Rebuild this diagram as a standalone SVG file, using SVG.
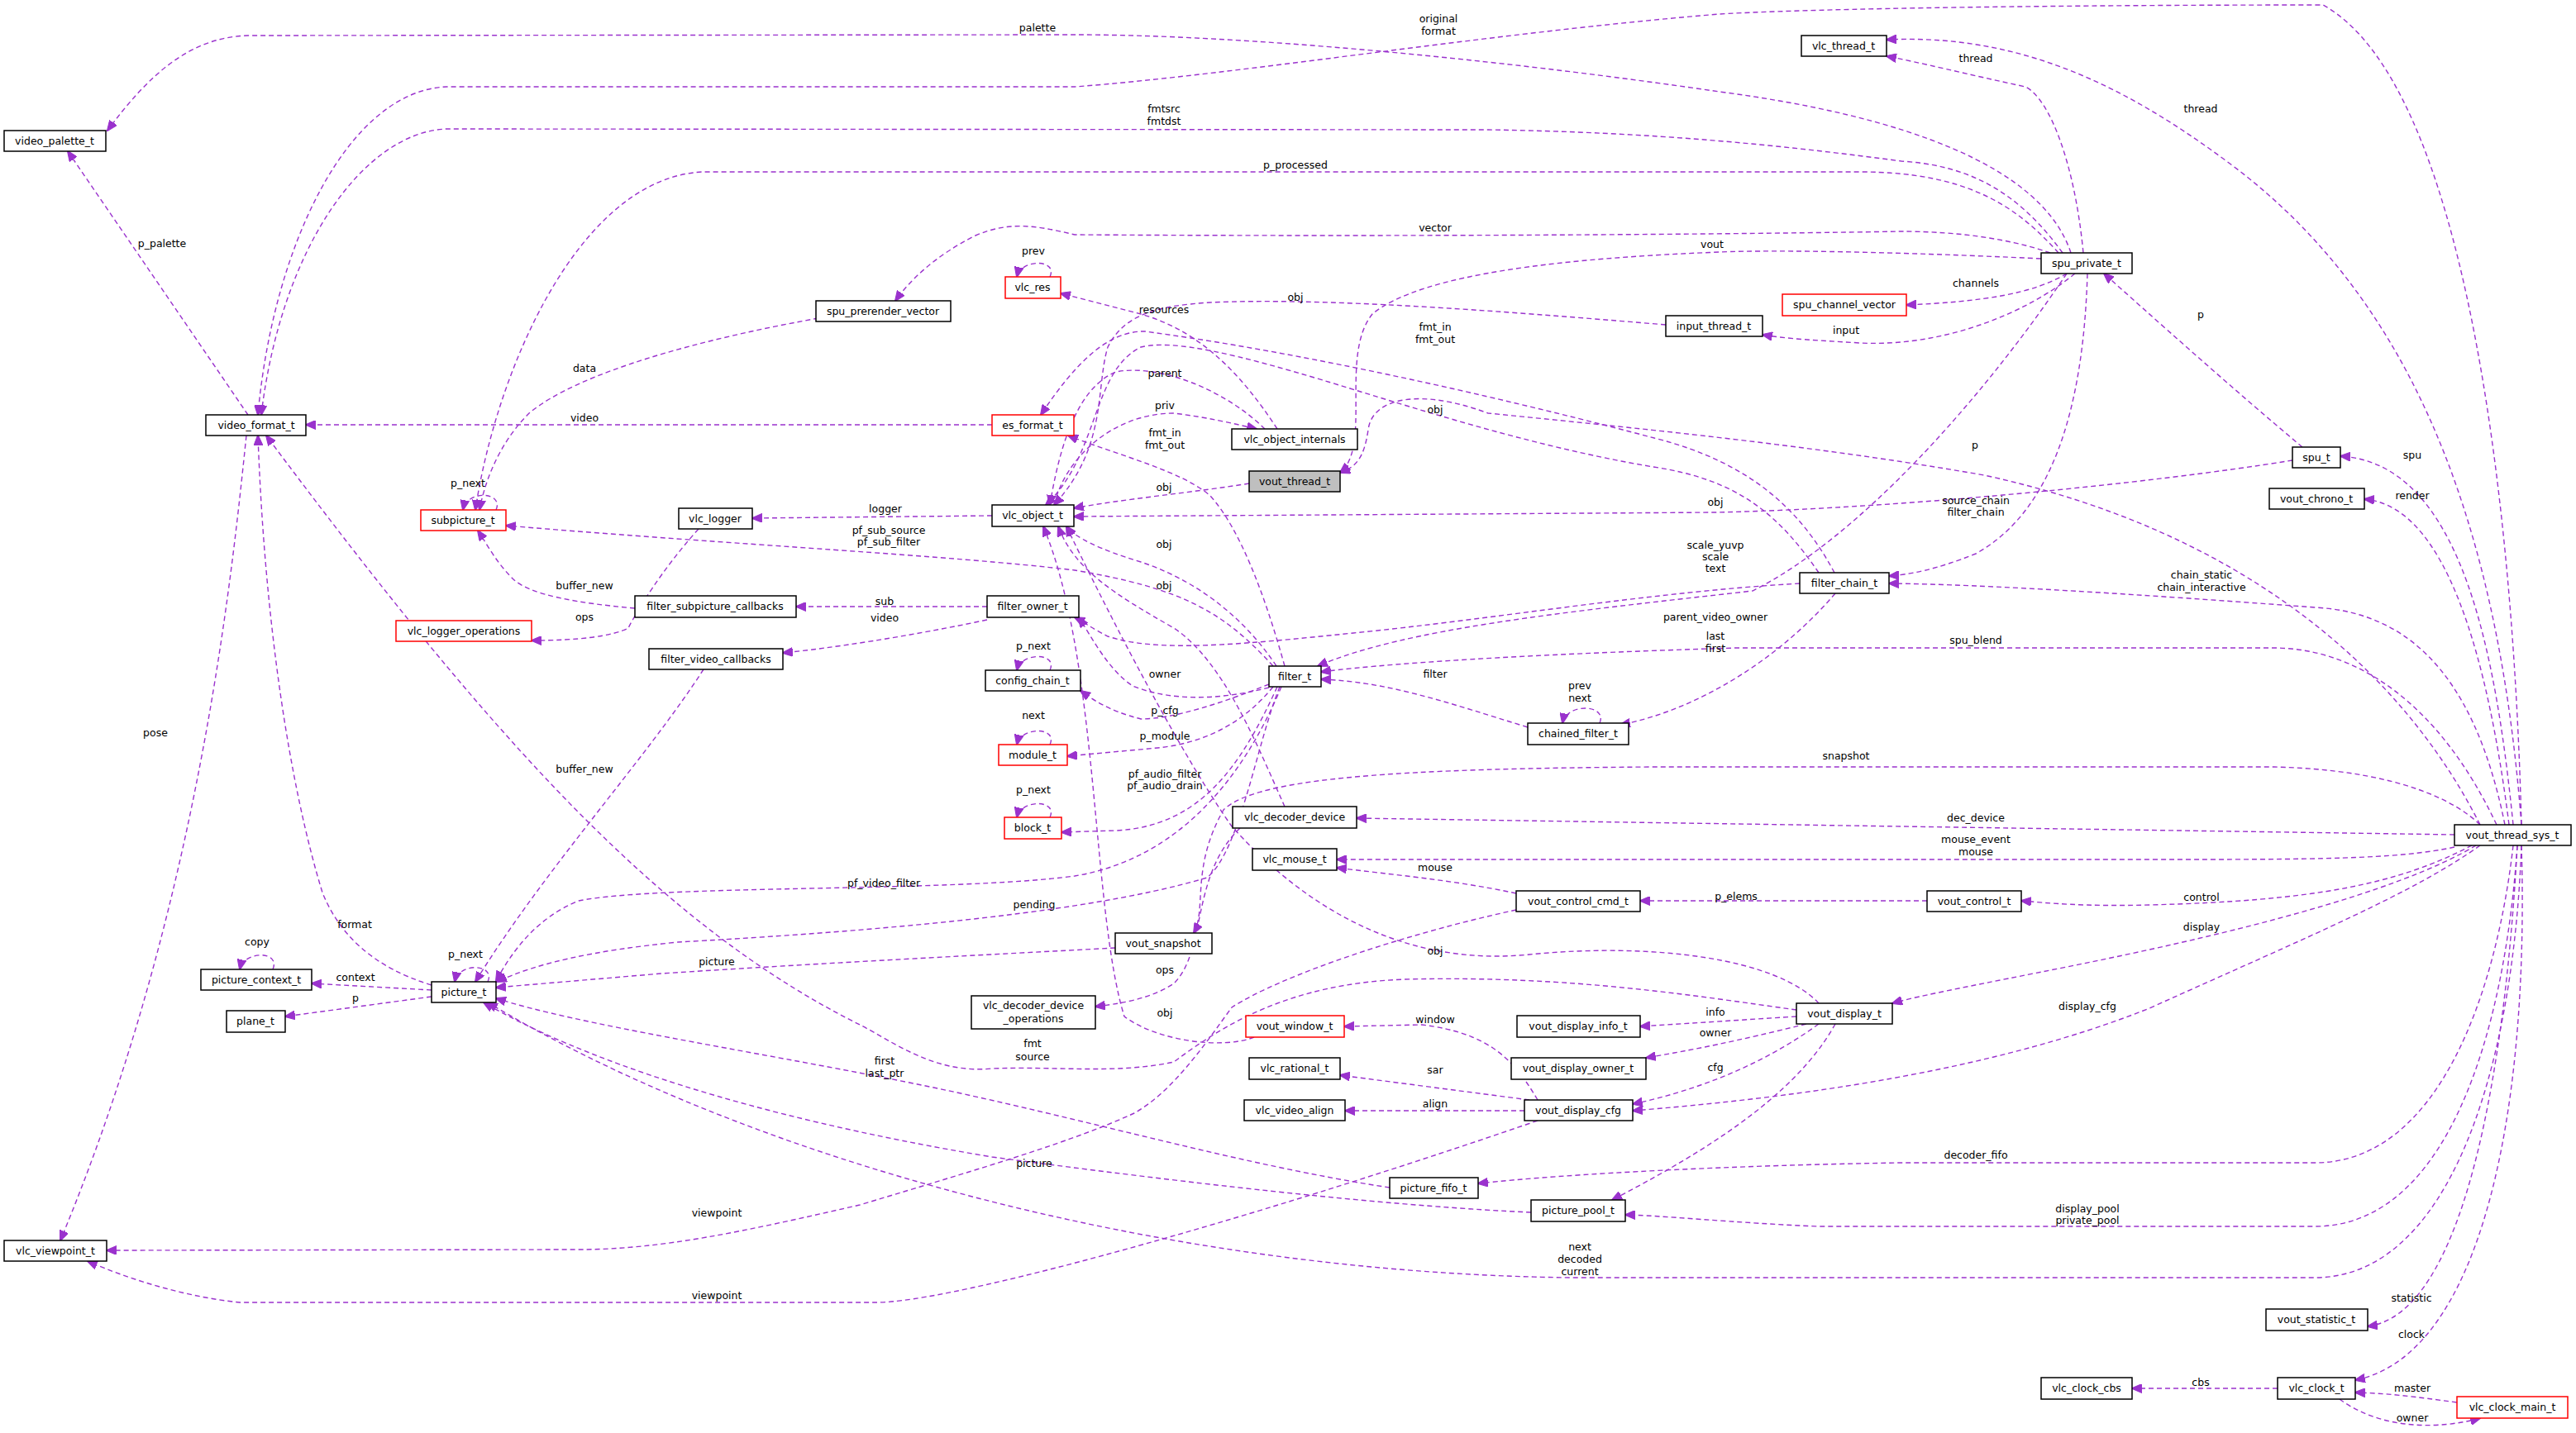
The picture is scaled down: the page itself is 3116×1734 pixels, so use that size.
<svg xmlns="http://www.w3.org/2000/svg" width="3116" height="1734" viewBox="0 0 3116 1734">
<style>
.n rect{fill:#fff;stroke:#000;stroke-width:1.5}
.r rect{stroke:#ff0000}
.g rect{fill:#bfbfbf}
text{font-family:"DejaVu Sans","Liberation Sans",sans-serif;font-size:12.5px;text-anchor:middle;fill:#000}
.e path{fill:none;stroke:#9a32cd;stroke-width:1.4;stroke-dasharray:6,4;marker-end:url(#a)}
</style>
<defs>
<marker id="a" viewBox="0 0 12 10" refX="11" refY="5" markerWidth="13" markerHeight="11" markerUnits="userSpaceOnUse" orient="auto">
<path d="M0,0 L12,5 L0,10 z" fill="#9a32cd" stroke="#9a32cd"/>
</marker>
</defs>
<rect width="3116" height="1734" fill="#fff"/>
<g class="e" id="edges">
<path d="M2505,306 C2470,200 2300,140 2080,111 C1800,70 1500,42 1300,42 L300,43 C230,45 180,90 130,158"/>
<path d="M3050,998 C3040,600 2980,100 2810,6 C2500,6 2200,10 2080,17 C1800,40 1500,90 1300,105 L540,105 C420,110 330,300 312,502"/>
<path d="M2495,306 C2440,230 2380,200 2300,195 C2150,175 2000,160 1800,157 L540,156 C440,160 340,300 316,502"/>
<path d="M2490,306 C2440,250 2380,208 2250,208 L850,208 C700,215 600,450 575,617"/>
<path d="M2480,306 C2420,285 2350,280 2300,280 C2000,285 1600,286 1300,284 C1250,272 1220,268 1180,285 C1130,310 1100,340 1083,364"/>
<path d="M2469,313 C2300,305 2150,302 2080,305 C1900,312 1720,330 1660,380 C1620,430 1660,540 1621,572"/>
<path d="M2500,331 C2460,355 2400,365 2306,369"/>
<path d="M2510,331 C2450,380 2350,420 2250,415 C2200,412 2160,410 2132,405"/>
<path d="M2520,306 C2510,200 2480,120 2450,105 C2380,90 2320,75 2282,68"/>
<path d="M3050,998 C3020,600 2900,350 2700,200 C2580,110 2450,40 2282,48"/>
<path d="M2785,541 C2700,470 2600,380 2545,331"/>
<path d="M3040,998 C3020,800 2980,560 2831,552"/>
<path d="M3035,998 C3010,800 2960,612 2860,604"/>
<path d="M3030,998 C2990,800 2900,740 2800,735 C2600,720 2400,707 2285,706"/>
<path d="M2525,331 C2520,500 2480,620 2390,670 C2340,690 2310,695 2285,697"/>
<path d="M3020,998 C2950,850 2850,784 2750,784 L2100,784 C1900,790 1700,800 1598,813"/>
<path d="M3000,998 C2950,950 2850,930 2750,928 L2000,928 C1700,930 1520,940 1480,980 C1440,1050 1460,1100 1444,1129"/>
<path d="M2969,1010 L2300,1000 L1641,990"/>
<path d="M2969,1025 C2900,1040 2800,1040 2600,1040 L1617,1040"/>
<path d="M2990,1023 C2900,1070 2800,1090 2600,1095 C2520,1097 2480,1093 2445,1090"/>
<path d="M2331,1090 L1984,1090"/>
<path d="M2995,1023 C2900,1080 2700,1130 2500,1170 C2400,1190 2320,1205 2289,1214"/>
<path d="M3000,1023 C2920,1080 2800,1130 2600,1220 C2400,1300 2150,1330 1975,1344"/>
<path d="M3040,1023 C3020,1200 2950,1407 2800,1407 L2300,1407 C2100,1410 1900,1420 1788,1432"/>
<path d="M3045,1023 C3030,1250 2960,1484 2800,1484 L2200,1484 C2100,1480 2000,1470 1966,1470"/>
<path d="M3050,1023 C3040,1300 2960,1546 2800,1546 L1900,1546 C1400,1540 900,1400 590,1213"/>
<path d="M3045,1023 C3030,1300 2980,1590 2864,1605"/>
<path d="M3050,1023 C3060,1350 3000,1640 2849,1670"/>
<path d="M2755,1680 L2579,1680"/>
<path d="M2972,1697 C2920,1690 2890,1686 2849,1685"/>
<path d="M2830,1693 C2880,1730 2950,1730 3000,1716"/>
<path d="M2173,1230 L1984,1242"/>
<path d="M2185,1239 C2100,1260 2050,1270 1991,1280"/>
<path d="M2200,1239 C2130,1290 2050,1320 1975,1336"/>
<path d="M2220,1239 C2170,1330 2050,1400 1950,1452"/>
<path d="M2200,1214 C2150,1160 2000,1140 1850,1155 C1700,1170 1580,1100 1490,1000 C1420,900 1330,720 1290,637"/>
<path d="M2173,1222 C2050,1205 1900,1180 1700,1185 C1560,1190 1480,1240 1420,1285 C1350,1300 1280,1290 1200,1293 C1130,1300 1080,1260 1040,1240 C800,1120 600,900 322,527"/>
<path d="M1860,1331 C1830,1280 1800,1250 1720,1240 L1626,1242"/>
<path d="M1850,1331 L1621,1301"/>
<path d="M1844,1344 L1627,1344"/>
<path d="M1860,1356 C1500,1480 1150,1576 1060,1576 L290,1576 C230,1570 160,1550 106,1526"/>
<path d="M1834,1081 C1760,1065 1680,1058 1617,1050"/>
<path d="M1834,1101 C1700,1130 1550,1180 1490,1219 C1460,1260 1420,1320 1372,1347 C1300,1380 1200,1410 1040,1458 C900,1490 800,1512 700,1512 L129,1513"/>
<path d="M1681,1437 C1500,1410 1300,1350 1100,1310 C900,1270 700,1240 600,1208"/>
<path d="M1852,1467 C1700,1460 1500,1440 1200,1400 C900,1350 700,1280 585,1213"/>
<path d="M1349,1147 C1200,1155 1000,1165 800,1178 L600,1195"/>
<path d="M1548,831 C1520,900 1500,1030 1460,1062 C1300,1110 1000,1130 820,1140 C720,1150 650,1165 601,1188"/>
<path d="M1511,585 C1450,595 1350,605 1299,615"/>
<path d="M2773,557 C2600,585 2300,615 2076,620 L1299,625"/>
<path d="M1544,806 C1500,740 1440,700 1380,680 C1330,665 1300,650 1290,637"/>
<path d="M1554,976 C1520,900 1480,800 1420,760 C1350,720 1300,690 1280,637"/>
<path d="M2015,393 C1800,375 1600,360 1464,366 C1400,370 1360,380 1340,420 C1325,470 1340,540 1275,611"/>
<path d="M2219,693 C2180,620 2120,560 2001,530 C1850,490 1600,430 1385,401 C1340,400 1300,440 1259,502"/>
<path d="M1554,806 C1530,720 1500,640 1464,600 C1430,570 1350,550 1292,527"/>
<path d="M2200,693 C2150,620 2100,580 2000,565 C1850,540 1700,490 1600,460 C1500,430 1420,410 1380,420 C1320,450 1330,550 1265,611"/>
<path d="M3000,998 C2900,800 2700,640 2400,575 C2200,540 2000,520 1800,500 C1720,470 1660,480 1655,520 C1650,555 1640,565 1621,572"/>
<path d="M1535,832 C1480,846 1420,850 1370,830 C1340,810 1320,770 1305,747"/>
<path d="M2177,706 C2000,716 1800,750 1637,766 C1500,780 1400,790 1340,770 C1320,760 1310,752 1300,747"/>
<path d="M1194,734 L963,734"/>
<path d="M1194,750 C1100,770 1000,785 947,790"/>
<path d="M768,736 C700,730 640,720 620,700 C600,680 590,660 578,642"/>
<path d="M851,810 C780,920 660,1050 575,1188"/>
<path d="M845,640 C800,690 770,740 760,760 C740,770 700,775 643,775"/>
<path d="M1200,624 L910,627"/>
<path d="M1540,806 C1480,740 1430,712 1300,690 C1150,672 900,660 612,636"/>
<path d="M1200,514 L370,514"/>
<path d="M990,385 C850,410 700,450 640,500 C600,540 585,590 580,617"/>
<path d="M300,502 L82,183"/>
<path d="M298,527 C280,700 240,1100 73,1501"/>
<path d="M522,1192 C450,1170 410,1130 390,1080 C350,950 320,750 312,527"/>
<path d="M522,1198 L377,1190"/>
<path d="M522,1206 L345,1230"/>
<path d="M1550,831 C1500,950 1420,1040 1300,1060 C1150,1080 800,1070 700,1090 C650,1110 620,1150 600,1187"/>
<path d="M1535,828 C1480,850 1420,870 1380,870 C1340,860 1320,845 1307,836"/>
<path d="M1540,831 C1500,880 1450,900 1400,905 L1291,915"/>
<path d="M1545,831 C1500,930 1450,1000 1350,1005 L1284,1007"/>
<path d="M1848,880 C1750,850 1680,825 1598,822"/>
<path d="M2220,718 C2150,800 2050,860 1960,877"/>
<path d="M2500,331 C2400,480 2250,650 2120,715 C1900,740 1700,760 1594,806"/>
<path d="M1275,611 C1290,550 1350,500 1420,500 C1460,505 1490,512 1520,519"/>
<path d="M1530,519 C1480,470 1400,440 1350,450 C1300,470 1280,550 1270,611"/>
<path d="M1545,519 C1500,450 1450,400 1380,380 L1283,355"/>
<path d="M1517,1255 C1480,1270 1400,1260 1360,1230 C1320,1100 1330,800 1262,637"/>
<path d="M1500,1002 C1440,1060 1460,1150 1420,1190 C1390,1210 1350,1215 1325,1218"/>
<path d="M600,617 C610,595 565,592 560,617"/>
<path d="M590,1188 C600,1166 555,1164 550,1188"/>
<path d="M330,1173 C340,1150 295,1150 290,1173"/>
<path d="M1270,811 C1280,789 1235,789 1230,811"/>
<path d="M1270,901 C1280,879 1235,879 1230,901"/>
<path d="M1270,989 C1280,967 1235,967 1230,989"/>
<path d="M1270,335 C1280,313 1235,313 1230,335"/>
<path d="M1935,875 C1945,852 1895,850 1890,875"/>
</g>
<g id="labels">
<text x="1255" y="38">palette</text>
<text x="1740" y="27">original</text><text x="1740" y="42">format</text>
<text x="1408" y="136">fmtsrc</text><text x="1408" y="151">fmtdst</text>
<text x="1567" y="204">p_processed</text>
<text x="1736" y="280">vector</text>
<text x="2071" y="300">vout</text>
<text x="2390" y="347">channels</text>
<text x="2233" y="404">input</text>
<text x="2390" y="75">thread</text>
<text x="2662" y="136">thread</text>
<text x="2662" y="385">p</text>
<text x="2918" y="555">spu</text>
<text x="2918" y="604">render</text>
<text x="2663" y="700">chain_static</text><text x="2663" y="715">chain_interactive</text>
<text x="2390" y="610">source_chain</text><text x="2390" y="624">filter_chain</text>
<text x="2390" y="779">spu_blend</text>
<text x="2233" y="919">snapshot</text>
<text x="2390" y="994">dec_device</text>
<text x="2390" y="1020">mouse_event</text><text x="2390" y="1035">mouse</text>
<text x="2663" y="1090">control</text>
<text x="2100" y="1089">p_elems</text>
<text x="2663" y="1126">display</text>
<text x="2525" y="1222">display_cfg</text>
<text x="2390" y="1402">decoder_fifo</text>
<text x="2525" y="1467">display_pool</text><text x="2525" y="1481">private_pool</text>
<text x="1911" y="1513">next</text><text x="1911" y="1528">decoded</text><text x="1911" y="1543">current</text>
<text x="2917" y="1575">statistic</text>
<text x="2917" y="1619">clock</text>
<text x="2662" y="1677">cbs</text>
<text x="2918" y="1684">master</text>
<text x="2918" y="1720">owner</text>
<text x="2075" y="1229">info</text>
<text x="2075" y="1254">owner</text>
<text x="2075" y="1296">cfg</text>
<text x="1963" y="1345">pool</text>
<text x="1736" y="1155">obj</text>
<text x="1249" y="1267">fmt</text><text x="1249" y="1283">source</text>
<text x="1736" y="1238">window</text>
<text x="1736" y="1299">sar</text>
<text x="1736" y="1340">align</text>
<text x="867" y="1572">viewpoint</text>
<text x="1736" y="1054">mouse</text>
<text x="867" y="1472">viewpoint</text>
<text x="1070" y="1288">first</text><text x="1070" y="1303">last_ptr</text>
<text x="1251" y="1412">picture</text>
<text x="867" y="1168">picture</text>
<text x="1251" y="1099">pending</text>
<text x="1408" y="594">obj</text>
<text x="2075" y="612">obj</text>
<text x="1408" y="663">obj</text>
<text x="1408" y="713">obj</text>
<text x="1567" y="364">obj</text>
<text x="1736" y="400">fmt_in</text><text x="1736" y="415">fmt_out</text>
<text x="1409" y="528">fmt_in</text><text x="1409" y="543">fmt_out</text>
<text x="1736" y="500">obj</text>
<text x="2389" y="543">p</text>
<text x="1409" y="820">owner</text>
<text x="2075" y="751">parent_video_owner</text>
<text x="1070" y="732">sub</text>
<text x="1070" y="752">video</text>
<text x="707" y="713">buffer_new</text>
<text x="707" y="935">buffer_new</text>
<text x="707" y="751">ops</text>
<text x="1071" y="620">logger</text>
<text x="1075" y="646">pf_sub_source</text><text x="1075" y="660">pf_sub_filter</text>
<text x="707" y="510">video</text>
<text x="707" y="450">data</text>
<text x="196" y="299">p_palette</text>
<text x="188" y="891">pose</text>
<text x="429" y="1123">format</text>
<text x="430" y="1187">context</text>
<text x="430" y="1212">p</text>
<text x="1069" y="1073">pf_video_filter</text>
<text x="1409" y="864">p_cfg</text>
<text x="1409" y="895">p_module</text>
<text x="1409" y="941">pf_audio_filter</text><text x="1409" y="955">pf_audio_drain</text>
<text x="1736" y="820">filter</text>
<text x="2075" y="774">last</text><text x="2075" y="789">first</text>
<text x="2075" y="664">scale_yuvp</text><text x="2075" y="678">scale</text><text x="2075" y="692">text</text>
<text x="1409" y="495">priv</text>
<text x="1409" y="456">parent</text>
<text x="1408" y="379">resources</text>
<text x="1409" y="1230">obj</text>
<text x="1409" y="1178">ops</text>
<text x="566" y="589">p_next</text>
<text x="563" y="1159">p_next</text>
<text x="311" y="1144">copy</text>
<text x="1250" y="786">p_next</text>
<text x="1250" y="870">next</text>
<text x="1250" y="960">p_next</text>
<text x="1250" y="308">prev</text>
<text x="1911" y="834">prev</text><text x="1911" y="849">next</text>
</g>
<g id="video_palette_t" class="n"><rect x="5" y="158" width="123" height="25"/><text x="66" y="175">video_palette_t</text></g>
<g id="video_format_t" class="n"><rect x="249" y="502" width="121" height="25"/><text x="310" y="519">video_format_t</text></g>
<g id="spu_prerender_vector" class="n"><rect x="987" y="364" width="163" height="25"/><text x="1068" y="381">spu_prerender_vector</text></g>
<g id="subpicture_t" class="n r"><rect x="509" y="617" width="103" height="25"/><text x="560" y="634">subpicture_t</text></g>
<g id="vlc_logger" class="n"><rect x="821" y="615" width="89" height="25"/><text x="865" y="632">vlc_logger</text></g>
<g id="filter_subpicture_callbacks" class="n"><rect x="768" y="721" width="195" height="26"/><text x="865" y="738">filter_subpicture_callbacks</text></g>
<g id="vlc_logger_operations" class="n r"><rect x="479" y="751" width="164" height="25"/><text x="561" y="768">vlc_logger_operations</text></g>
<g id="filter_video_callbacks" class="n"><rect x="785" y="785" width="162" height="25"/><text x="866" y="802">filter_video_callbacks</text></g>
<g id="vlc_res" class="n r"><rect x="1216" y="335" width="67" height="26"/><text x="1249" y="352">vlc_res</text></g>
<g id="es_format_t" class="n r"><rect x="1200" y="502" width="99" height="25"/><text x="1249" y="519">es_format_t</text></g>
<g id="vlc_object_internals" class="n"><rect x="1490" y="519" width="152" height="25"/><text x="1566" y="536">vlc_object_internals</text></g>
<g id="vout_thread_t" class="n g"><rect x="1511" y="570" width="110" height="25"/><text x="1566" y="587">vout_thread_t</text></g>
<g id="vlc_object_t" class="n"><rect x="1200" y="611" width="99" height="26"/><text x="1249" y="628">vlc_object_t</text></g>
<g id="filter_owner_t" class="n"><rect x="1194" y="721" width="111" height="26"/><text x="1249" y="738">filter_owner_t</text></g>
<g id="config_chain_t" class="n"><rect x="1192" y="811" width="115" height="25"/><text x="1249" y="828">config_chain_t</text></g>
<g id="filter_t" class="n"><rect x="1535" y="806" width="63" height="25"/><text x="1566" y="823">filter_t</text></g>
<g id="input_thread_t" class="n"><rect x="2015" y="382" width="117" height="25"/><text x="2073" y="399">input_thread_t</text></g>
<g id="vlc_thread_t" class="n"><rect x="2179" y="43" width="103" height="25"/><text x="2230" y="60">vlc_thread_t</text></g>
<g id="spu_private_t" class="n"><rect x="2469" y="306" width="110" height="25"/><text x="2524" y="323">spu_private_t</text></g>
<g id="spu_channel_vector" class="n r"><rect x="2156" y="356" width="150" height="26"/><text x="2231" y="373">spu_channel_vector</text></g>
<g id="spu_t" class="n"><rect x="2773" y="541" width="58" height="25"/><text x="2802" y="558">spu_t</text></g>
<g id="vout_chrono_t" class="n"><rect x="2745" y="591" width="115" height="25"/><text x="2802" y="608">vout_chrono_t</text></g>
<g id="filter_chain_t" class="n"><rect x="2177" y="693" width="108" height="25"/><text x="2231" y="710">filter_chain_t</text></g>
<g id="picture_context_t" class="n"><rect x="243" y="1173" width="134" height="25"/><text x="310" y="1190">picture_context_t</text></g>
<g id="plane_t" class="n"><rect x="274" y="1223" width="71" height="26"/><text x="309" y="1240">plane_t</text></g>
<g id="picture_t" class="n"><rect x="522" y="1188" width="78" height="25"/><text x="561" y="1205">picture_t</text></g>
<g id="vlc_viewpoint_t" class="n"><rect x="5" y="1501" width="124" height="25"/><text x="67" y="1518">vlc_viewpoint_t</text></g>
<g id="chained_filter_t" class="n"><rect x="1848" y="875" width="122" height="26"/><text x="1909" y="892">chained_filter_t</text></g>
<g id="module_t" class="n r"><rect x="1208" y="901" width="83" height="25"/><text x="1249" y="918">module_t</text></g>
<g id="block_t" class="n r"><rect x="1215" y="989" width="69" height="26"/><text x="1249" y="1006">block_t</text></g>
<g id="vlc_decoder_device" class="n"><rect x="1491" y="976" width="150" height="26"/><text x="1566" y="993">vlc_decoder_device</text></g>
<g id="vlc_mouse_t" class="n"><rect x="1515" y="1027" width="102" height="26"/><text x="1566" y="1044">vlc_mouse_t</text></g>
<g id="vout_control_cmd_t" class="n"><rect x="1834" y="1078" width="150" height="25"/><text x="1909" y="1095">vout_control_cmd_t</text></g>
<g id="vout_snapshot" class="n"><rect x="1349" y="1129" width="117" height="25"/><text x="1407" y="1146">vout_snapshot</text></g>
<g id="vlc_decoder_device_operations" class="n"><rect x="1175" y="1205" width="150" height="40"/><text x="1250" y="1221">vlc_decoder_device</text><text x="1250" y="1237">_operations</text></g>
<g id="vout_window_t" class="n r"><rect x="1507" y="1229" width="119" height="26"/><text x="1566" y="1246">vout_window_t</text></g>
<g id="vout_display_info_t" class="n"><rect x="1835" y="1229" width="149" height="26"/><text x="1909" y="1246">vout_display_info_t</text></g>
<g id="vlc_rational_t" class="n"><rect x="1511" y="1280" width="110" height="26"/><text x="1566" y="1297">vlc_rational_t</text></g>
<g id="vout_display_owner_t" class="n"><rect x="1828" y="1280" width="163" height="26"/><text x="1909" y="1297">vout_display_owner_t</text></g>
<g id="vlc_video_align" class="n"><rect x="1505" y="1331" width="122" height="25"/><text x="1566" y="1348">vlc_video_align</text></g>
<g id="vout_display_cfg" class="n"><rect x="1844" y="1331" width="131" height="25"/><text x="1909" y="1348">vout_display_cfg</text></g>
<g id="picture_fifo_t" class="n"><rect x="1681" y="1425" width="107" height="25"/><text x="1734" y="1442">picture_fifo_t</text></g>
<g id="picture_pool_t" class="n"><rect x="1852" y="1452" width="114" height="26"/><text x="1909" y="1469">picture_pool_t</text></g>
<g id="vout_thread_sys_t" class="n"><rect x="2969" y="998" width="141" height="25"/><text x="3039" y="1015">vout_thread_sys_t</text></g>
<g id="vout_control_t" class="n"><rect x="2331" y="1078" width="114" height="25"/><text x="2388" y="1095">vout_control_t</text></g>
<g id="vout_display_t" class="n"><rect x="2173" y="1214" width="116" height="25"/><text x="2231" y="1231">vout_display_t</text></g>
<g id="vout_statistic_t" class="n"><rect x="2741" y="1584" width="123" height="26"/><text x="2802" y="1601">vout_statistic_t</text></g>
<g id="vlc_clock_cbs" class="n"><rect x="2469" y="1667" width="110" height="26"/><text x="2524" y="1684">vlc_clock_cbs</text></g>
<g id="vlc_clock_t" class="n"><rect x="2755" y="1667" width="94" height="26"/><text x="2802" y="1684">vlc_clock_t</text></g>
<g id="vlc_clock_main_t" class="n r"><rect x="2972" y="1690" width="134" height="26"/><text x="3039" y="1707">vlc_clock_main_t</text></g>
</svg>
